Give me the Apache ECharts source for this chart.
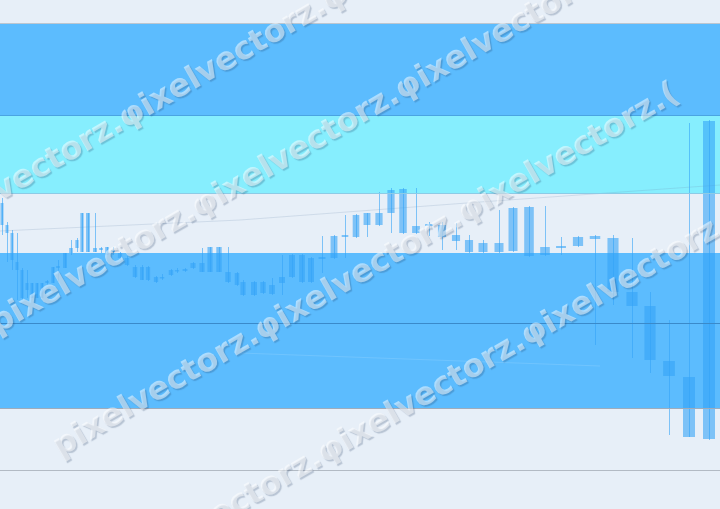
<!DOCTYPE html>
<html>
<head>
<meta charset="utf-8">
<script src="https://cdn.jsdelivr.net/npm/echarts@6/dist/echarts.min.js"></script>
<style>
html,body{margin:0;padding:0;background:#e7eff8;}
#chart{width:720px;height:509px;}
</style>
</head>
<body>
<div id="chart"></div>
<script>
// ---- data ----
const times = [2,7,12,17,22,27,32,37,42,47,53,58,65,71,77,82,88,95,101,107,113,120,127,135,142,148,156,162,171,177,185,193,202,210,219,228,237,
  243,254,263,272,282,292,302,311,322,334,345,356,367,379,391,403,416,429,442,456,469,
  483,499,513,529,545,561,578,595,613,632,650,669,689,709];
const opens  = [267,245,237,208,200,187,187,172,187,187,187,202,202,217,222,218,257,222,220,223,218,217,212,203,203,190,193,192,195,199,199,202,207,198,223,198,197,
  188,175,188,185,187,193,215,188,211,212,233,233,245,257,257,281,244,244,245,235,230,
  227,218,219,263,223,222,224,231,232,178,164,109,93,31];
const closes = [245,237,210,200,172,180,172,187,172,189,203,204,217,222,230,257,218,218,222,215,220,212,205,193,190,203,188,193,200,200,201,207,198,223,198,188,185,
  175,188,177,176,193,215,188,212,213,234,235,255,257,245,280,237,237,246,233,229,218,
  218,227,262,214,215,224,233,234,178,164,110,94,33,349];
const lows   = [235,208,200,170,170,172,172,172,172,185,187,188,202,215,218,218,218,218,217,215,215,210,204,192,190,189,187,190,194,197,198,201,198,198,198,187,184,
  174,174,176,175,175,192,187,187,197,211,212,232,233,244,237,236,236,234,220,220,217,
  217,217,218,213,214,215,223,125,165,112,97,35,33,30];
const highs  = [272,248,240,237,202,200,187,187,187,190,203,210,217,230,232,257,257,257,223,223,223,218,214,205,205,204,194,196,201,202,202,208,222,223,223,223,198,
  190,189,189,192,215,216,216,213,234,235,255,256,257,278,282,282,282,248,248,247,235,
  230,260,263,264,264,233,234,235,235,232,178,150,347,350];
// faint moving lines
const maUpper = [[0,239],[240,250],[480,268],[720,285]];
const maLower = [[240,117],[600,104]];
// horizontal zones (price levels)
const zoneBlueLow = [62,217];
const zoneCyan = [277,355];
const zoneBlueTop = [355,447];
const levelLines = [447,355,277,147,62];
const levelColors = ['#bcc6d0','#4aa4e2','#8ccbe6','#3a8aca','#9eacbc'];
const watermarkText = 'pixelvectorz.\u03C6ixelvectorz.\u03C6ixelvectorz.(';
const watermarkRows = [[-80,238],[-7,327],[56,450],[119,573]];

const COL = 'rgba(51,163,246,0.59)';

const candleData = times.map((t,i)=>[t, opens[i], closes[i], lows[i], highs[i]]);

function renderItem(params, api) {
  const i = params.dataIndex;
  const x = api.value(0);
  const pO = api.coord([x, api.value(1)]);
  const pC = api.coord([x, api.value(2)]);
  const pL = api.coord([x, api.value(3)]);
  const pH = api.coord([x, api.value(4)]);
  const n = times.length;
  const prev = api.coord([times[Math.max(i-1,0)], 0])[0];
  const next = api.coord([times[Math.min(i+1,n-1)], 0])[0];
  const sp = (next - prev) / ((i>0 && i<n-1) ? 2 : 1);
  const w = Math.max(sp * 0.6, 2);
  const top = Math.min(pO[1], pC[1]);
  const bot = Math.max(pO[1], pC[1]);
  const xc = Math.round(pO[0]) + 0.5;
  return {
    type: 'group',
    children: [
      {type:'line', shape:{x1:xc, y1:pH[1], x2:xc, y2:pL[1]}, style:{stroke:COL, lineWidth:1}},
      {type:'rect', shape:{x:pO[0]-w/2, y:top, width:w, height:Math.max(bot-top,1.5)}, style:{fill:COL}}
    ]
  };
}

const chart = echarts.init(document.getElementById('chart'), null, {renderer:'canvas'});
chart.setOption({
  animation: false,
  backgroundColor: '#e7eff8',
  grid: {left:0, right:0, top:23, bottom:39, containLabel:false},
  xAxis: {
    type:'value', min:0, max:720,
    axisLine:{show:true, onZero:false, lineStyle:{color:'#b2bac4', width:1}},
    axisTick:{show:false}, axisLabel:{show:false}, splitLine:{show:false}
  },
  yAxis: {
    type:'value', min:0, max:447,
    axisLine:{show:false}, axisTick:{show:false}, axisLabel:{show:false}, splitLine:{show:false}
  },
  series: [
    {
      type:'line', z:1, data:[], silent:true, symbol:'none',
      markArea: {
        silent:true,
        data:[
          [{yAxis:zoneBlueLow[0], itemStyle:{color:'#5cbcfe'}},{yAxis:zoneBlueLow[1]}],
          [{yAxis:zoneCyan[0], itemStyle:{color:'#86eefe'}},{yAxis:zoneCyan[1]}],
          [{yAxis:zoneBlueTop[0], itemStyle:{color:'#5cbcfe'}},{yAxis:zoneBlueTop[1]}]
        ]
      }
    },
    {
      type:'line', z:2, data:[], silent:true, symbol:'none',
      markLine: {
        silent:true, symbol:['none','none'], label:{show:false},
        data: levelLines.map((v,k)=>({yAxis:v, lineStyle:{color:levelColors[k], width:1, type:'solid'}}))
      }
    },
    {
      type:'line', z:3, data:maUpper, symbol:'none', silent:true,
      lineStyle:{color:'rgba(110,140,175,0.2)', width:1}
    },
    {
      type:'line', z:3, data:maLower, symbol:'none', silent:true,
      lineStyle:{color:'rgba(255,255,255,0.12)', width:1}
    },
    {
      type:'custom', z:4, renderItem: renderItem, data: candleData,
      encode:{x:0, y:[1,2,3,4]}, clip:true
    }
  ],
  graphic: watermarkRows.map(([x,y])=>({
    type:'text', x:x, y:y, rotation:-Math.PI/6 * -1, silent:true, z:100,
    style:{
      text: watermarkText,
      font:'bold 32px "DejaVu Sans"',
      fill:'rgba(255,255,255,0.5)',
      align:'left', verticalAlign:'middle',
      textShadowColor:'rgba(20,50,90,0.45)',
      textShadowOffsetX:1.5, textShadowOffsetY:1.5, textShadowBlur:1
    }
  }))
});
</script>
</body>
</html>
